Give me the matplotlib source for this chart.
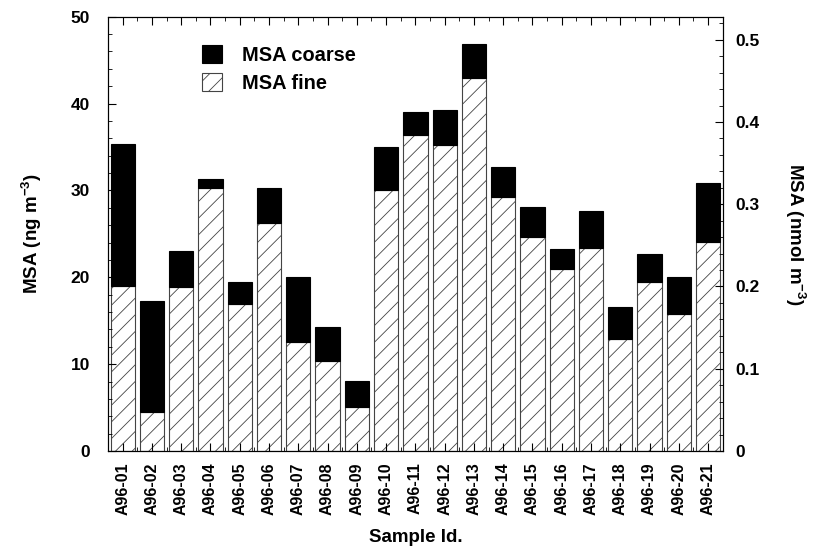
import matplotlib.pyplot as plt
import numpy as np

plt.rcParams['font.family'] = ['Liberation Sans', 'DejaVu Sans']
plt.rcParams['font.weight'] = 'bold'
plt.rcParams['hatch.linewidth'] = 0.6
plt.rcParams['mathtext.fontset'] = 'custom'
plt.rcParams['mathtext.rm'] = 'Liberation Sans:bold'
plt.rcParams['mathtext.bf'] = 'Liberation Sans:bold'
plt.rcParams['mathtext.default'] = 'bf'

# sample ids and MSA values (ng m-3)
samples = ['A96-%02d' % i for i in range(1, 22)]
msa_total = [35.4, 17.3, 23.0, 31.3, 19.4, 30.3, 20.0, 14.25, 8.1, 35.0, 39.05,
             39.25, 46.85, 32.65, 28.1, 23.2, 27.6, 16.6, 22.7, 20.05, 30.8]
msa_fine = [19.0, 4.5, 18.9, 30.3, 16.9, 26.3, 12.5, 10.4, 5.1, 30.1, 36.4,
            35.25, 42.9, 29.3, 24.6, 20.9, 23.4, 12.9, 19.5, 15.8, 24.1]
msa_coarse = [t - f for t, f in zip(msa_total, msa_fine)]

ng_per_nmol = 94.7

fig = plt.figure(figsize=(8.16, 5.5), dpi=100)
ax = fig.add_axes([0.1324, 0.18, 0.7533, 0.7896])

x = np.arange(len(samples))
w = 0.83
ax.bar(x, msa_fine, width=w, color='white', edgecolor='#444444', hatch='//',
       linewidth=0.8, label='MSA fine')
ax.bar(x, msa_coarse, width=w, bottom=msa_fine, color='black', edgecolor='black',
       linewidth=0.8, label='MSA coarse')

ax.set_xlim(-0.5, len(samples) - 0.5)
ax.set_ylim(0, 50)
ax.set_xticks(x)
ax.set_xticklabels(samples, rotation=90, fontsize=11.5, fontweight='bold')
ax.set_xticks(x[:-1] + 0.5, minor=True)
ax.set_yticks(np.arange(0, 51, 10))
ax.set_yticks(np.arange(0, 51, 2), minor=True)
ax.tick_params(axis='both', which='both', direction='in', top=True)
ax.tick_params(axis='x', which='major', length=6, pad=8, labelsize=11.5)
ax.tick_params(axis='y', which='major', length=6, pad=13, labelsize=12.5)
ax.tick_params(axis='both', which='minor', length=3)
for lab in ax.get_yticklabels():
    lab.set_fontweight('bold')

ax.set_xlabel('Sample Id.', fontsize=13.5, fontweight='bold', labelpad=10)
ax.set_ylabel('MSA (ng m$^{-3}$)', fontsize=13.5, fontweight='bold', labelpad=19)

ax2 = ax.twinx()
ax2.set_ylim(0, 50 / ng_per_nmol)
ax2.set_yticks([0, 0.1, 0.2, 0.3, 0.4, 0.5])
ax2.set_yticklabels(['0', '0.1', '0.2', '0.3', '0.4', '0.5'], fontweight='bold')
ax2.set_yticks(np.arange(0, 0.521, 0.02), minor=True)
ax2.tick_params(axis='y', which='both', direction='in', labelsize=12.5, pad=9)
ax2.tick_params(axis='y', which='major', length=6)
ax2.tick_params(axis='y', which='minor', length=3)
ax2.set_ylabel('MSA (nmol m$^{-3}$)', fontsize=13.5, fontweight='bold',
               rotation=270, labelpad=34)

handles, labels = ax.get_legend_handles_labels()
ax.legend(handles[::-1], labels[::-1], loc='upper left', bbox_to_anchor=(0.124, 0.976),
          frameon=False, handlelength=1.0, handleheight=1.0,
          handletextpad=1.0, labelspacing=0.4, prop={'weight': 'bold', 'size': 14.4})

fig.savefig('out.png', dpi=100)
